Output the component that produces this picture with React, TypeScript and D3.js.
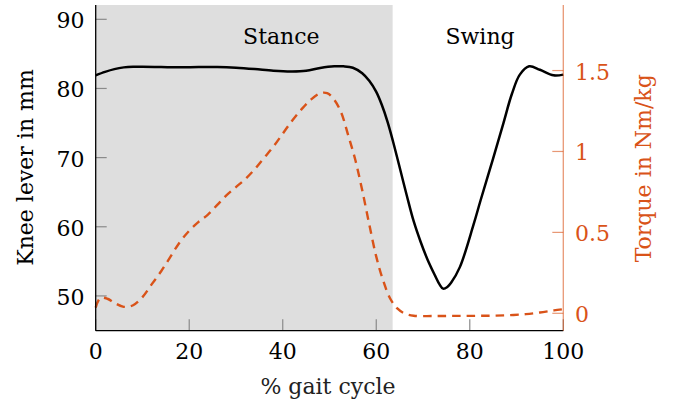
import React from "react";
import * as d3 from "d3";

const kneeX = [0, 2, 4, 6, 8, 10, 14, 18, 22, 26, 30, 34, 38, 42, 45, 48, 51, 53, 55, 57, 58.5, 60, 61.2, 62.4, 63.6, 65, 66.5, 68, 69.5, 71, 72.6, 73.5, 74.3, 75.2, 76, 77.9, 80.8, 82.3, 85, 87.2, 89, 90.7, 92.7, 95, 97.9, 100];
const kneeY = [81.9, 82.4, 82.8, 83.05, 83.15, 83.15, 83.1, 83.05, 83.1, 83.1, 83.0, 82.8, 82.55, 82.45, 82.55, 82.95, 83.2, 83.2, 83.0, 82.2, 81.1, 79.5, 77.6, 75.2, 72.3, 68.6, 64.6, 60.8, 57.8, 55.2, 52.9, 51.7, 51.05, 51.3, 51.9, 54.2, 60.3, 63.8, 69.9, 75.0, 79.2, 82.0, 83.2, 82.7, 81.9, 82.0];

const torqueX = [0, 1, 2.5, 4, 6, 8, 10, 12, 14, 16, 18, 20, 22, 24, 26, 28, 30, 32, 34, 36, 38, 40, 42, 44, 46, 48, 49.5, 51, 52.5, 54, 55.5, 57, 58.5, 60, 61.5, 63, 64.5, 66, 68, 72, 76, 80, 84, 88, 92, 95, 98, 100];
const torqueY = [0.035, 0.095, 0.09, 0.065, 0.04, 0.05, 0.1, 0.18, 0.26, 0.35, 0.44, 0.51, 0.565, 0.61, 0.67, 0.73, 0.78, 0.83, 0.89, 0.96, 1.03, 1.11, 1.19, 1.26, 1.32, 1.36, 1.36, 1.32, 1.24, 1.1, 0.95, 0.76, 0.55, 0.35, 0.2, 0.09, 0.03, 0.0, -0.015, -0.017, -0.016, -0.016, -0.015, -0.012, -0.005, 0.005, 0.018, 0.025];

const xTicks = [0, 20, 40, 60, 80, 100];
const leftTicks = [50, 60, 70, 80, 90];
const rightTicks = [0, 0.5, 1, 1.5];
const rightTickLabels = ["0", "0.5", "1", "1.5"];

const phases = ["Stance", "Swing"];
const phaseBounds = [0, 63.5, 100];
const phaseLabelX = [39.7, 82.2];

const ORANGE = "#d95319";
const FONT = "DejaVu Serif";

export default function App() {
  const W = 678, H = 410;
  const L = 95.7, R = 563.3, T = 5, B = 330.7;
  const x = d3.scaleLinear().domain([0, 100]).range([L, R]);
  const yL = d3.scaleLinear().domain([44.97, 92.07]).range([B, T]);
  const yR = d3.scaleLinear().domain([-0.1075, 1.905]).range([B, T]);

  const kneeLine = d3
    .line<number>()
    .x((_, i) => x(kneeX[i]))
    .y((d) => yL(d))
    .curve(d3.curveCatmullRom.alpha(0.5));
  const torqueLine = d3
    .line<number>()
    .x((_, i) => x(torqueX[i]))
    .y((d) => yR(d))
    .curve(d3.curveCatmullRom.alpha(0.5));

  const fs = 22;

  return (
    <div style={{ position: "fixed", left: 0, top: 0 }}>
      <svg width={W} height={H} style={{ display: "block", background: "#fff" }} fontFamily={FONT}>
        <rect x={x(phaseBounds[0])} y={T} width={x(phaseBounds[1]) - x(phaseBounds[0])} height={B - T} fill="#dedede" />
        {xTicks.map((t) => (
          <g key={"xt" + t}>
            <line x1={x(t)} x2={x(t)} y1={B} y2={B - 11.5} stroke="#8a8a8a" strokeWidth={1.2} />
            <text x={x(t)} y={359} textAnchor="middle" fontSize={fs} fill="#000">{t}</text>
          </g>
        ))}
        {leftTicks.map((t) => (
          <g key={"lt" + t}>
            <line x1={L} x2={L + 11} y1={yL(t)} y2={yL(t)} stroke="#8a8a8a" strokeWidth={1.2} />
            <text x={84.5} y={yL(t) + 9} textAnchor="end" fontSize={fs} fill="#000">{t}</text>
          </g>
        ))}
        {rightTicks.map((t, i) => (
          <g key={"rt" + t}>
            <line x1={R} x2={R - 11} y1={yR(t)} y2={yR(t)} stroke={ORANGE} strokeOpacity={0.6} strokeWidth={1.2} />
            <text x={575} y={yR(t) + 9} textAnchor="start" fontSize={fs} fill={ORANGE}>{rightTickLabels[i]}</text>
          </g>
        ))}
        <path d={torqueLine(torqueY) || ""} fill="none" stroke={ORANGE} strokeWidth={2.4} strokeDasharray="8.5,6" />
        <path d={kneeLine(kneeY) || ""} fill="none" stroke="#000" strokeWidth={2.5} />
        <line x1={L} x2={L} y1={T} y2={B} stroke="#000" strokeWidth={1.3} />
        <line x1={L} x2={R} y1={B} y2={B} stroke="#000" strokeWidth={1.3} />
        <line x1={R} x2={R} y1={T} y2={B} stroke={ORANGE} strokeOpacity={0.6} strokeWidth={1.3} />
        {phases.map((p, i) => (
          <text key={p} x={x(phaseLabelX[i])} y={44.3} textAnchor="middle" fontSize={fs} fill="#000">{p}</text>
        ))}
        <text x={328} y={394.3} textAnchor="middle" fontSize={fs} fill="#222">% gait cycle</text>
        <text transform={`translate(33,167.5) rotate(-90)`} textAnchor="middle" fontSize={fs} fill="#000">Knee lever in mm</text>
        <text transform={`translate(651,168.3) rotate(-90)`} textAnchor="middle" fontSize={fs} fill={ORANGE}>Torque in Nm/kg</text>
      </svg>
    </div>
  );
}
